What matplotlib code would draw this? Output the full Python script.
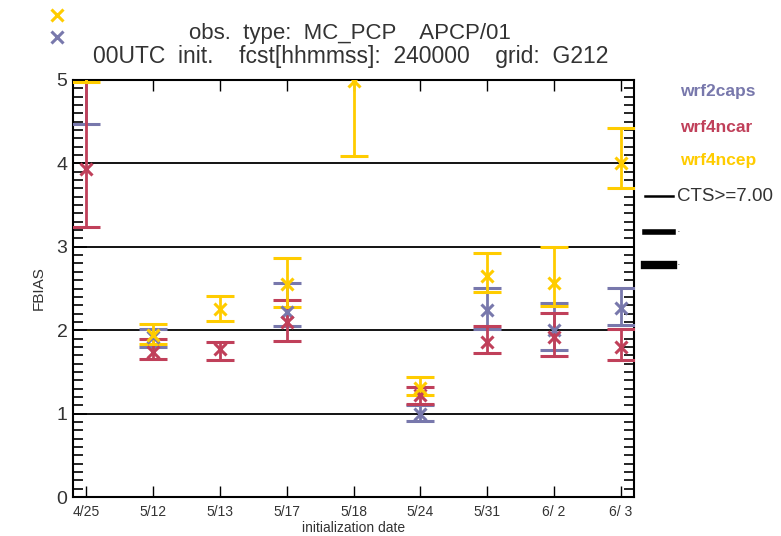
import numpy as np
import matplotlib
matplotlib.use("Agg")
import matplotlib.pyplot as plt
from matplotlib.lines import Line2D
from matplotlib.ticker import MultipleLocator

plt.rcParams['font.family'] = ['Liberation Sans', 'DejaVu Sans']

# initialization dates on the x axis
dates = ['4/25', '5/12', '5/13', '5/17', '5/18', '5/24', '5/31', '6/ 2', '6/ 3']
nan = np.nan

# FBIAS with lower / upper confidence bounds per model
caps_val = [5.30, 1.92, nan, 2.22, nan, 1.00, 2.24, 2.00, 2.27]
caps_lo  = [4.47, 1.80, nan, 2.05, nan, 0.91, 2.02, 1.76, 2.06]
caps_hi  = [5.80, 2.01, nan, 2.56, nan, 1.10, 2.51, 2.33, 2.51]

ncar_val = [3.93, 1.74, 1.77, 2.10, nan, 1.22, 1.86, 1.92, 1.80]
ncar_lo  = [3.24, 1.66, 1.64, 1.87, nan, 1.11, 1.73, 1.69, 1.64]
ncar_hi  = [5.30, 1.90, 1.86, 2.36, nan, 1.32, 2.05, 2.21, 2.02]

ncep_val = [5.40, 1.94, 2.26, 2.55, 4.99, 1.31, 2.65, 2.57, 4.01]
ncep_lo  = [4.98, 1.83, 2.11, 2.28, 4.09, 1.22, 2.46, 2.29, 3.71]
ncep_hi  = [5.80, 2.07, 2.41, 2.86, 5.60, 1.44, 2.92, 3.00, 4.42]

models = [
    ('wrf2caps', caps_val, caps_lo, caps_hi, '#7878AC'),
    ('wrf4ncar', ncar_val, ncar_lo, ncar_hi, '#C0405A'),
    ('wrf4ncep', ncep_val, ncep_lo, ncep_hi, '#FFCC00'),
]

fig = plt.figure(figsize=(7.81, 5.36), dpi=100)
ax = fig.add_axes([73 / 781, 39 / 536, 561 / 781, 417 / 536])

x = np.arange(len(dates))
for name, val, lo, hi, col in models:
    val = np.array(val)
    err = np.array([val - np.array(lo), np.array(hi) - val])
    ax.errorbar(x, val, yerr=err, fmt='x', color=col, ecolor=col,
                elinewidth=2, capsize=10, capthick=2.5,
                markersize=9, markeredgewidth=2.2, zorder=3)

# horizontal reference lines
for yv in [1, 2, 3, 4]:
    ax.axhline(yv, color='black', lw=1.3, zorder=1)

ax.set_xlim(-0.2, 8.2)
ax.set_ylim(0, 5)
ax.set_xticks(x)
ax.set_xticklabels(dates, fontsize=10, color='#333333')
ax.set_yticks([0, 1, 2, 3, 4, 5])
ax.set_yticklabels(['0', '1', '2', '3', '4', '5'], fontsize=14, color='#333333')
ax.yaxis.set_minor_locator(MultipleLocator(0.1))
ax.tick_params(axis='x', direction='in', length=8, width=1, top=True, pad=6)
ax.tick_params(axis='y', which='major', direction='in', length=10, width=1.2,
               right=True, pad=4)
ax.tick_params(axis='y', which='minor', direction='in', length=7, width=1.2,
               right=True)
for sp in ax.spines.values():
    sp.set_linewidth(1.5)

ax.set_ylabel('FBIAS', fontsize=11, color='#333333', labelpad=8)
ax.set_xlabel('initialization date', fontsize=10, color='#333333', labelpad=1)

# two-line title
fig.text(350 / 781, 1 - 33 / 536, 'obs.  type:  MC_PCP    APCP/01', ha='center',
         va='center', fontsize=16, color='#333333')
fig.text(351 / 781, 1 - 56 / 536,
         '00UTC  init.    fcst[hhmmss]:  240000    grid:  G212',
         ha='center', va='center', fontsize=16.5, color='#333333')

# stray symbol keys at top left
fig.add_artist(Line2D([57 / 781], [1 - 15 / 536], marker='x', color='#FFCC00',
                      markersize=9, markeredgewidth=2.2,
                      transform=fig.transFigure))
fig.add_artist(Line2D([57 / 781], [1 - 37 / 536], marker='x', color='#7878AC',
                      markersize=9, markeredgewidth=2.2,
                      transform=fig.transFigure))

# model key on the right
for (name, _, _, _, col), ypix in zip(models, [92, 127, 160]):
    fig.text(680 / 781, 1 - ypix / 536, name, color=col, fontsize=12.5,
             fontweight='bold', va='center', ha='left')

for ypix, lw, lab in [(196, 1.8, 'CTS>=7.00'), (232, 4, '·'), (265, 6, '·')]:
    fig.add_artist(Line2D([645 / 781, 673 / 781], [1 - ypix / 536] * 2,
                          color='black', lw=lw, transform=fig.transFigure))
    fig.text(677 / 781, 1 - ypix / 536, lab, fontsize=13.5 if lab != '·' else 8,
             color='#333333', va='center', ha='left')

fig.savefig('out.png', dpi=100)
